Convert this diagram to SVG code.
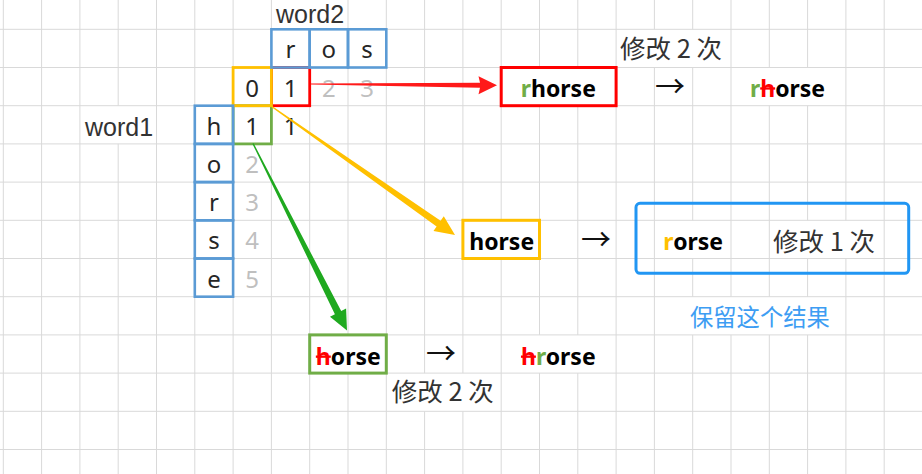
<svg xmlns="http://www.w3.org/2000/svg" width="922" height="474" viewBox="0 0 922 474">
<style>
.grid{stroke:#d9d9d9;stroke-width:1;fill:none}
.cell{fill:none;stroke:#5b9bd5;stroke-width:2.6}
.c{font-family:"Noto Sans","Noto Sans CJK SC",sans-serif;font-size:24px;fill:#262626;text-anchor:middle}
.g{fill:#bfbfbf}
.lbl{font-family:"Liberation Sans","Noto Sans CJK SC",sans-serif;font-size:25px;fill:#333}
.w{font-family:"Noto Sans","Noto Sans CJK SC",sans-serif;font-size:23px;font-weight:bold;fill:#000;text-anchor:middle}
.cjk{font-family:"Noto Sans CJK SC",sans-serif;font-size:25.5px;fill:#333}
.arr{font-family:"Noto Sans CJK SC",sans-serif;font-size:30px;fill:#111;text-anchor:middle}
.red{fill:#ff0000}
.grn{fill:#70ad47}
.org{fill:#ffc000}
.strike{text-decoration:line-through}
</style>
<rect width="922" height="474" fill="#ffffff"/>
<g id="grid" class="grid">
<path d="M0 29.3H922M0 67.5H922M0 105.7H922M0 143.9H922M0 182.1H922M0 220.3H922M0 258.5H922M0 296.7H922M0 334.9H922M0 373.1H922M0 411.3H922M0 449.5H922"/>
<path d="M3.3 0V474M41.6 0V474M79.9 0V474M118.2 0V105.7M118.2 143.9V474M156.5 0V474M194.8 0V474M233.1 0V474M271.4 0V474M309.7 29.3V474M348 0V334.9M348 373.1V474M386.3 0V474M424.6 0V373.1M424.6 411.3V474M462.9 0V373.1M462.9 411.3V474M501.2 0V220.3M501.2 258.5V474M539.5 0V67.5M539.5 105.7V334.9M539.5 373.1V474M577.8 0V67.5M577.8 105.7V334.9M577.8 373.1V474M616.1 0V474M654.4 0V29.3M654.4 67.5V474M692.7 0V29.3M692.7 67.5V220.3M692.7 258.5V296.7M692.7 334.9V474M731 0V296.7M731 334.9V474M769.3 0V67.5M769.3 105.7V296.7M769.3 334.9V474M807.6 0V67.5M807.6 105.7V220.3M807.6 258.5V296.7M807.6 334.9V474M845.9 0V220.3M845.9 258.5V474M884.2 0V474"/>
</g>
<g id="labels">
<text class="lbl" x="276" y="23">word2</text>
<text class="lbl" x="85" y="136">word1</text>
</g>
<g id="matrix">
<rect x="271.4" y="67.5" width="38.3" height="38.2" fill="none" stroke="#ff0000" stroke-width="2.8"/>
<rect x="233.1" y="105.7" width="38.3" height="38.2" fill="none" stroke="#70ad47" stroke-width="2.8"/>
<rect x="233.1" y="67.5" width="38.3" height="38.2" fill="none" stroke="#ffc000" stroke-width="2.8"/>
<rect class="cell" x="271.4" y="29.3" width="38.3" height="38.2"/>
<rect class="cell" x="309.7" y="29.3" width="38.3" height="38.2"/>
<rect class="cell" x="348" y="29.3" width="38.3" height="38.2"/>
<rect class="cell" x="194.8" y="105.7" width="38.3" height="38.2"/>
<rect class="cell" x="194.8" y="143.9" width="38.3" height="38.2"/>
<rect class="cell" x="194.8" y="182.1" width="38.3" height="38.2"/>
<rect class="cell" x="194.8" y="220.3" width="38.3" height="38.2"/>
<rect class="cell" x="194.8" y="258.5" width="38.3" height="38.2"/>
<text class="c" x="290.5" y="58.4">r</text>
<text class="c" x="328.8" y="58.4">o</text>
<text class="c" x="367.1" y="58.4">s</text>
<text class="c" x="252.2" y="96.6">0</text>
<text class="c" x="290.5" y="96.6">1</text>
<text class="c g" x="328.8" y="96.6">2</text>
<text class="c g" x="367.1" y="96.6">3</text>
<text class="c" x="214" y="134.8">h</text>
<text class="c" x="252.2" y="134.8">1</text>
<text class="c" x="290.5" y="134.8">1</text>
<text class="c" x="214" y="173">o</text>
<text class="c g" x="252.2" y="173">2</text>
<text class="c" x="214" y="211.2">r</text>
<text class="c g" x="252.2" y="211.2">3</text>
<text class="c" x="214" y="249.4">s</text>
<text class="c g" x="252.2" y="249.4">4</text>
<text class="c" x="214" y="287.6">e</text>
<text class="c g" x="252.2" y="287.6">5</text>
</g>
<g id="connectors">
<polygon fill="#ff1a1a" points="311,83.6 480,82.8 478.5,76.3 497,85.3 478.5,94.3 480,87.8 311,84.6"/>
<polygon fill="#ffc000" points="271.4,105.4 440.6,220.7 443.8,216.2 455,235 433.5,230.9 436.6,226.4 270.6,106.6"/>
<polygon fill="#1fa91f" points="253.6,143.2 341.2,311.1 346.1,308.6 347,330.5 330,316.7 334.9,314.2 252.4,143.8"/>
</g>
<g id="node-insert">
<rect x="501.2" y="67.5" width="114.9" height="38.2" fill="none" stroke="#ff0000" stroke-width="3"/>
<text class="w" x="558.3" y="96.8"><tspan class="grn">r</tspan>horse</text>
<text class="arr" x="670" y="97">→</text>
<text class="w" x="787.5" y="96.8"><tspan class="grn">r</tspan><tspan class="red strike">h</tspan>orse</text>
<text class="cjk" x="620" y="58">修改 2 次</text>
</g>
<g id="node-replace">
<rect x="462.9" y="220.3" width="76.6" height="38.2" fill="none" stroke="#ffc000" stroke-width="3"/>
<text class="w" x="501.7" y="250">horse</text>
<text class="arr" x="596" y="250">→</text>
<rect x="636" y="203.3" width="272.7" height="70" rx="4" fill="none" stroke="#2196f3" stroke-width="3"/>
<text class="w" x="663.3" y="250" style="text-anchor:start"><tspan class="org">r</tspan>orse</text>
<text class="cjk" x="773" y="251">修改 1 次</text>
<text class="cjk" x="690" y="326" style="font-size:23.3px;fill:#3d9df3">保留这个结果</text>
</g>
<g id="node-delete">
<rect x="309.7" y="334.9" width="76.6" height="38.2" fill="none" stroke="#70ad47" stroke-width="3"/>
<text class="w" x="348.3" y="365"><tspan class="red strike">h</tspan>orse</text>
<text class="arr" x="441" y="364">→</text>
<text class="w" x="558.3" y="365"><tspan class="red strike">h</tspan><tspan class="grn">r</tspan>orse</text>
<text class="cjk" x="391.7" y="401">修改 2 次</text>
</g>
</svg>
